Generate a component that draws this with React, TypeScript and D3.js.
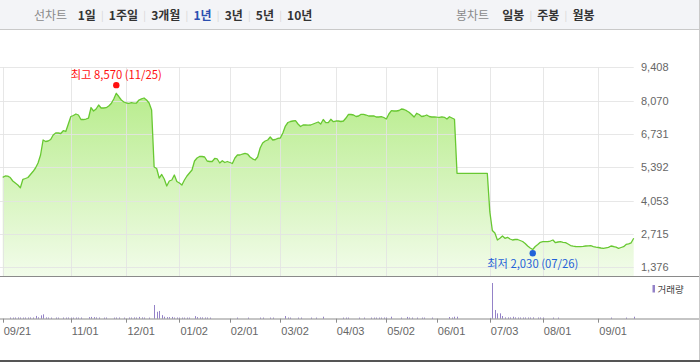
import React from 'react';
import * as d3 from 'd3';

// Market holidays (KRX) inside the period
const holidays = ['2022-10-03', '2022-10-10', '2022-12-30', '2023-01-23', '2023-01-24', '2023-03-01', '2023-05-01', '2023-05-05', '2023-05-29', '2023-06-06', '2023-08-15'];
const fmtKey = d3.timeFormat('%Y-%m-%d');
const fmtTick = d3.timeFormat('%m/%d');
const parseKey = d3.timeParse('%Y-%m-%d');
const tradingDays: string[] = d3.timeDay
  .range(new Date(2022, 8, 21), new Date(2023, 8, 22))
  .filter((d) => d.getDay() !== 0 && d.getDay() !== 6)
  .map(fmtKey)
  .filter((s) => !holidays.includes(s));

// daily closing prices (one per trading day)
const prices = [
  4990, 5043, 5035, 4982, 4842, 4761, 4681, 4573, 4910, 4942,
  4982, 5103, 5223, 5364, 5565, 5886, 6488, 6428, 6448, 6508,
  6689, 6769, 6769, 6749, 6862, 6830, 7131, 7432, 7472, 7532,
  7492, 7311, 7311, 7331, 7371, 7793, 7653, 7733, 7893, 7773,
  7773, 7786, 7854, 7954, 8135, 8364, 8235, 8095, 8014, 7974,
  7962, 7986, 7966, 7974, 8095, 8143, 8175, 8095, 7974, 7693,
  5404, 5344, 4962, 5103, 4922, 4641, 4842, 4882, 5083, 4822,
  4761, 4681, 4882, 5043, 5163, 5284, 5645, 5766, 5826, 5826,
  5806, 5645, 5625, 5625, 5746, 5726, 5565, 5657, 5585, 5625,
  5585, 5545, 5766, 5886, 5886, 5926, 5954, 5926, 5806, 5733,
  5685, 5806, 6167, 6368, 6448, 6488, 6609, 6488, 6508, 6556,
  6568, 6769, 7050, 7191, 7231, 7251, 7263, 7131, 7030, 7090,
  7090, 7082, 7090, 7131, 7171, 7211, 7131, 7311, 7183, 7183,
  7320, 7223, 7251, 7251, 7231, 7251, 7371, 7520, 7512, 7492,
  7432, 7452, 7520, 7520, 7492, 7452, 7452, 7460, 7412, 7412,
  7424, 7392, 7331, 7532, 7665, 7653, 7653, 7673, 7733, 7713,
  7665, 7601, 7512, 7412, 7561, 7512, 7432, 7452, 7492, 7432,
  7412, 7412, 7404, 7400, 7420, 7400, 7331, 7424, 7371, 7320,
  5150, 5150, 5150, 5150, 5150, 5150, 5150, 5150, 5150, 5150,
  5150, 5150, 5150, 3600, 2853, 2753, 2472, 2541, 2633, 2541,
  2581, 2513, 2472, 2492, 2492, 2452, 2412, 2332, 2231, 2151,
  2091, 2211, 2292, 2380, 2404, 2404, 2404, 2432, 2472, 2364,
  2392, 2404, 2380, 2364, 2312, 2251, 2223, 2211, 2207, 2203,
  2215, 2231, 2239, 2243, 2211, 2183, 2171, 2151, 2139, 2159,
  2179, 2231, 2211, 2183, 2139, 2171, 2203, 2292, 2320, 2360,
  2541,
];

// daily volume (thousand shares)
const volumes = [
  0, 0, 0, 300, 280, 300, 320, 300, 280, 300,
  300, 320, 300, 700, 350, 850, 1100, 330, 300, 280,
  0, 300, 280, 0, 300, 280, 300, 280, 280, 300,
  280, 300, 0, 0, 400, 450, 400, 330, 300, 0,
  280, 300, 0, 0, 280, 300, 300, 0, 280, 0,
  300, 300, 330, 300, 450, 330, 300, 0, 280, 0,
  3450, 1750, 1950, 900, 500, 400, 400, 450, 300, 300,
  280, 280, 280, 280, 280, 0, 650, 400, 330, 330,
  300, 300, 280, 0, 0, 0, 0, 0, 0, 0,
  0, 0, 0, 280, 0, 0, 0, 280, 0, 0,
  0, 0, 280, 280, 0, 0, 280, 280, 0, 0,
  0, 0, 680, 300, 280, 0, 0, 280, 280, 0,
  0, 0, 280, 0, 280, 0, 0, 500, 0, 0,
  0, 0, 0, 0, 0, 280, 280, 280, 0, 0,
  0, 280, 0, 280, 0, 0, 280, 280, 280, 280,
  280, 300, 300, 0, 500, 0, 0, 0, 280, 0,
  450, 300, 280, 0, 280, 0, 280, 280, 0, 0,
  280, 0, 0, 0, 0, 0, 0, 420, 300, 500,
  500, 0, 0, 0, 0, 0, 0, 0, 0, 0,
  0, 0, 0, 200, 9000, 2200, 1350, 1350, 680, 330,
  330, 330, 500, 330, 300, 300, 300, 300, 300, 300,
  330, 0, 300, 300, 300, 0, 0, 0, 280, 0,
  280, 0, 0, 0, 0, 0, 0, 0, 0, 0,
  0, 0, 0, 0, 0, 0, 0, 0, 0, 0,
  0, 280, 0, 0, 0, 0, 0, 280, 0, 0,
  500,
];

const xTickDates = ['2022-09-21', '2022-11-01', '2022-12-01', '2023-01-02', '2023-02-01', '2023-03-02', '2023-04-03', '2023-05-02', '2023-06-01', '2023-07-03', '2023-08-01', '2023-09-01'];
const yTicks = [1376, 2715, 4053, 5392, 6731, 8070, 9408];

const highPoint = { date: '2022-11-25', value: 8570, label: '최고' };
const lowPoint = { date: '2023-07-26', value: 2030, label: '최저' };

const periodLabel = '선차트';
const periodTabs = ['1일', '1주일', '3개월', '1년', '3년', '5년', '10년'];
const activePeriod = '1년';
const candleLabel = '봉차트';
const candleTabs = ['일봉', '주봉', '월봉'];
const volumeLegend = '거래량';

const KR = '"Noto Sans CJK KR", "Noto Sans", sans-serif';
const NUM = '"Liberation Sans", Arial, sans-serif';

export default function App() {
  const W = 700;
  const H = 362;
  const plotLeft = 2.7;
  const plotRight = 633.7;
  const priceTop = 67.3;
  const priceBottom = 276;
  const volBase = 318.7;

  const x = d3.scalePoint<string>().domain(tradingDays).range([plotLeft, plotRight]);
  const y = d3.scaleLinear().domain([yTicks[0], yTicks[yTicks.length - 1]]).range([267.3, priceTop]);
  const vy = d3.scaleLinear().domain([0, d3.max(volumes) as number]).range([volBase, 283]);

  const data = tradingDays.map((d, i) => ({ d, v: prices[i], vol: volumes[i] ?? 0 }));
  const line = d3.line<{ d: string; v: number }>().x((p) => x(p.d) as number).y((p) => y(p.v));
  const area = d3
    .area<{ d: string; v: number }>()
    .x((p) => x(p.d) as number)
    .y0(priceBottom)
    .y1((p) => y(p.v));

  const fmtNum = d3.format(',');
  const hx = x(highPoint.date) as number;
  const lx = x(lowPoint.date) as number;

  const sep = (key: string) => (
    <tspan key={key} dx={5.2} fill="#d6d6d6" fontSize={10} fontWeight={400} dy={-1}>
      |
    </tspan>
  );

  return (
    <svg width={W} height={H} style={{ position: 'absolute', left: 0, top: 0, display: 'block' }}>
      <defs>
        <linearGradient id="pfill" gradientUnits="userSpaceOnUse" x1={0} x2={0} y1={priceTop} y2={priceBottom}>
          <stop offset="0" stopColor="#b0ea80" />
          <stop offset="1" stopColor="#f2fcea" />
        </linearGradient>
      </defs>
      <rect x={0} y={0} width={W} height={H} fill="#fff" />

      {/* top menu bar */}
      <rect x={0} y={0} width={W} height={29.5} fill="#f3f4f7" />
      <line x1={0} x2={W} y1={29.5} y2={29.5} stroke="#c9c9c9" />
      <text x={34} y={19.5} fontFamily={KR} fontSize={12} fill="#8a8a8a">
        <tspan>{periodLabel}</tspan>
        {periodTabs.map((t, i) => (
          <React.Fragment key={t}>
            {i > 0 && sep('s' + i)}
            <tspan
              dx={i === 0 ? 10.5 : 5.2}
              dy={i === 0 ? 0 : 1}
              fontWeight={700}
              fill={t === activePeriod ? '#2a4fb0' : '#333'}
            >
              {t}
            </tspan>
          </React.Fragment>
        ))}
      </text>
      <text x={456} y={19.5} fontFamily={KR} fontSize={12} fill="#8a8a8a">
        <tspan>{candleLabel}</tspan>
        {candleTabs.map((t, i) => (
          <React.Fragment key={t}>
            {i > 0 && sep('c' + i)}
            <tspan dx={i === 0 ? 13 : 5.2} dy={i === 0 ? 0 : 1} fontWeight={700} fill="#333">
              {t}
            </tspan>
          </React.Fragment>
        ))}
      </text>

      {/* price area */}
      <path d={area(data) as string} fill="url(#pfill)" />

      {/* grid */}
      {yTicks.map((t) => (
        <line key={'h' + t} x1={0} x2={plotRight} y1={Math.round(y(t)) + 0.5} y2={Math.round(y(t)) + 0.5} stroke="#e3e3e3" strokeOpacity={0.85} />
      ))}
      {xTickDates.map((d) => (
        <line key={'v' + d} x1={Math.round(x(d) as number) + 0.5} x2={Math.round(x(d) as number) + 0.5} y1={priceTop} y2={priceBottom} stroke="#e3e3e3" strokeOpacity={0.85} />
      ))}

      <path d={line(data) as string} fill="none" stroke="#68c832" strokeWidth={1.3} strokeLinejoin="round" />

      {/* y labels */}
      {yTicks.map((t) => (
        <text key={'yl' + t} x={641} y={y(t) + 4} fontFamily={NUM} fontSize={11} fill="#666">
          {fmtNum(t)}
        </text>
      ))}

      {/* high / low markers */}
      <circle cx={hx} cy={y(highPoint.value) - 3} r={3.2} fill="#ff1010" />
      <text x={hx} y={79} textAnchor="middle" fontFamily={KR} fontSize={11.3} fill="#ff1010">
        {`${highPoint.label} ${fmtNum(highPoint.value)} (${fmtTick(parseKey(highPoint.date) as Date)})`}
      </text>
      <circle cx={lx} cy={y(lowPoint.value) + 2.3} r={3.2} fill="#1f62d8" />
      <text x={lx} y={267.5} textAnchor="middle" fontFamily={KR} fontSize={11.3} fill="#1f62d8">
        {`${lowPoint.label} ${fmtNum(lowPoint.value)} (${fmtTick(parseKey(lowPoint.date) as Date)})`}
      </text>

      {/* panel separators */}
      <line x1={0} x2={W} y1={276.5} y2={276.5} stroke="#8a8a8a" strokeWidth={1.2} />

      {/* volume bars */}
      {data.map((p) =>
        p.vol > 0 ? (
          <line
            key={'vb' + p.d}
            x1={Math.round(x(p.d) as number) + 0.5}
            x2={Math.round(x(p.d) as number) + 0.5}
            y1={volBase}
            y2={vy(p.vol)}
            stroke="#9482c8"
            strokeWidth={1}
          />
        ) : null
      )}
      <line x1={0} x2={W} y1={volBase + 0.3} y2={volBase + 0.3} stroke="#8c8c8c" strokeWidth={1.1} />
      {xTickDates.map((d) => (
        <g key={'xt' + d}>
          <line x1={Math.round(x(d) as number) + 0.5} x2={Math.round(x(d) as number) + 0.5} y1={volBase} y2={volBase + 4} stroke="#8c8c8c" />
          <text x={(x(d) as number) + 1} y={335} fontFamily={NUM} fontSize={11} fill="#666">
            {fmtTick(parseKey(d) as Date)}
          </text>
        </g>
      ))}

      {/* volume legend */}
      <rect x={652.5} y={285} width={2.5} height={7.5} fill="#9482c8" />
      <text x={657.5} y={292.5} fontFamily={KR} fontSize={9.5} fill="#444">
        {volumeLegend}
      </text>

      {/* frame */}
      <line x1={699.5} x2={699.5} y1={0} y2={H} stroke="#c9c9c9" />
      <rect x={0} y={360} width={W} height={2} fill="#555" />
    </svg>
  );
}
